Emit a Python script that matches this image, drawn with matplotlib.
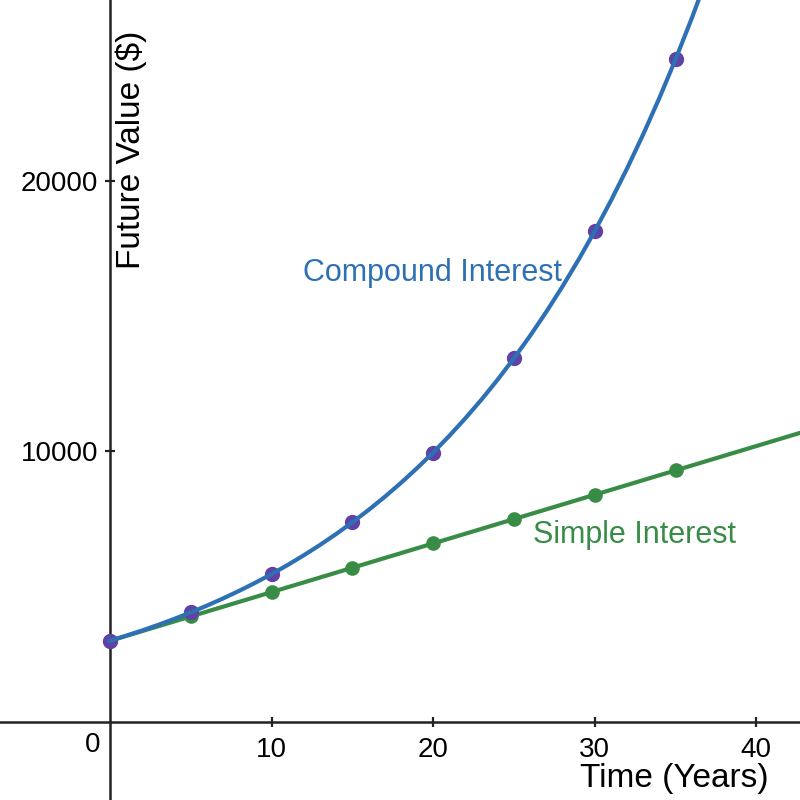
import matplotlib
matplotlib.use('Agg')
import matplotlib.pyplot as plt

plt.rcParams['font.family'] = ['Liberation Sans', 'DejaVu Sans']

# compound interest curve
curve_years = list(range(0, 39))
curve_value = [3000, 3186, 3383, 3592, 3814, 4050, 4300, 4566, 4848, 5148,
               5466, 5804, 6163, 6544, 6949, 7379, 7835, 8319, 8834, 9380,
               9960, 10576, 11230, 11924, 12661, 13445, 14276, 15159, 16096, 17091,
               18148, 19270, 20461, 21726, 23069, 24496, 26010, 27618, 29326]

# sample points every 5 years
point_years = [0, 5, 10, 15, 20, 25, 30, 35]
compound_pts = [3000, 4050, 5466, 7379, 9960, 13445, 18148, 24496]
simple_pts = [3000, 3900, 4800, 5700, 6600, 7500, 8400, 9300]

# simple interest line, start and right edge
simple_years = [0, 43]
simple_value = [3000, 10740]

xticks = [10, 20, 30, 40]
yticks = [10000, 20000]

blue = '#2d70b3'
green = '#388c46'
purple = '#6042a6'

fig = plt.figure(figsize=(8, 8), dpi=100)
ax = fig.add_axes([0, 0, 1, 1])
ax.set_xlim(-6.8, 42.7)
ax.set_ylim(-2885, 26690)

ax.spines['left'].set_position(('data', 0))
ax.spines['bottom'].set_position(('data', 0))
ax.spines['right'].set_visible(False)
ax.spines['top'].set_visible(False)
for s in ('left', 'bottom'):
    ax.spines[s].set_linewidth(1.8)
    ax.spines[s].set_color('#222222')

ax.set_xticks(xticks)
ax.set_yticks(yticks)
ax.tick_params(direction='inout', length=7, width=1.6, color='#222222',
               labelsize=20, pad=5)
ax.tick_params(axis='x', pad=7)
ax.text(-1.05, -870, '0', fontsize=20, ha='center', va='center')

# simple interest
ax.plot(simple_years, simple_value, color=green, lw=3, zorder=3)
ax.plot(point_years, simple_pts, 'o', color=green, ms=9.5, zorder=4)

# compound interest
ax.plot(point_years, compound_pts, 'o', color=purple, ms=10, zorder=5)
ax.plot(curve_years, curve_value, color=blue, lw=3, zorder=6)

ax.text(11.95, 16600, 'Compound Interest', color=blue, fontsize=22,
        ha='left', va='center')
ax.text(26.2, 6920, 'Simple Interest', color=green, fontsize=22,
        ha='left', va='center')

ax.text(1.3, 21150, 'Future Value ($)', fontsize=24, rotation=90,
        ha='center', va='center')
ax.text(34.9, -2080, 'Time (Years)', fontsize=24, ha='center', va='center')

plt.savefig('out.png', dpi=100)
plt.close()
